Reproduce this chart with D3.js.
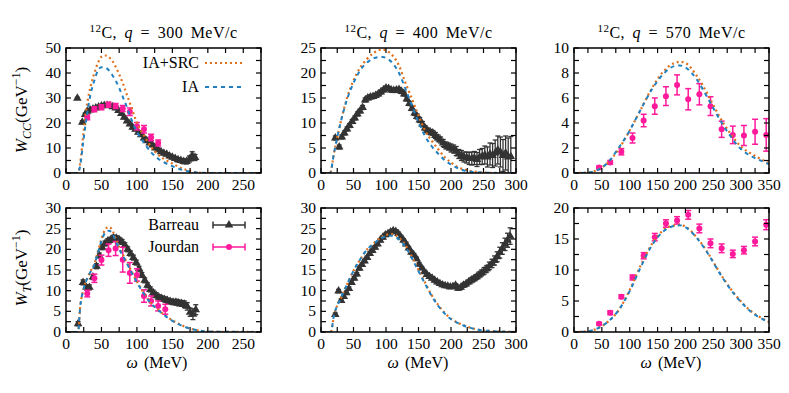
<!DOCTYPE html>
<html>
<head>
<meta charset="utf-8">
<script src="https://cdn.jsdelivr.net/npm/d3@7"></script>
<style>
  body { margin: 0; background: #fff; }
  text { font-family: "Liberation Serif", "Times New Roman", serif; fill: #000; }
</style>
</head>
<body>
<script>
//Theory curves (IA+SRC and IA), omega grid per panel
var thW_cc300 = [0,17,20,25,30,35,40,45,50,55,60,65,70,75,80,85,90,95,100,110,120,130,140,150,160,170,180,190,200,275];
var src_cc300 = [0,0,4,17,28,35,40,44,46.5,47,46.5,45,42.5,39.5,36,32,28,24,20,15,10.5,7.3,5.3,3.8,2.3,1.2,0.5,0.1,0,0];
var ia_cc300  = [0,0,3,14,24,32,37,41,42.3,42.2,41.2,39.3,37,34,30.5,27,23,19.5,16.5,12,8.3,5.7,4,2.7,1.6,0.8,0.3,0.1,0,0];

var thW_cc400 = [0,14,20,30,40,50,60,70,80,90,95,100,110,120,130,140,150,160,170,180,190,200,210,220,240,260,300];
var src_cc400 = [0,0,4,10,15,18.5,21,22.7,23.9,24.6,24.7,24.5,23.5,21.5,18,14.8,11.5,8.5,6.5,4.8,3.2,2.1,1.2,0.7,0.2,0.05,0];
var ia_cc400  = [0,0,4,10,14.7,18,20.5,22,22.9,23.2,23.2,23,22,20,16.8,13.4,10.2,7.4,5.4,3.9,2.6,1.7,1,0.5,0.15,0.03,0];

var thW_cc570 = [0,20,40,60,80,100,120,140,160,180,190,200,220,240,260,280,300,320,340,350];
var src_cc570 = [0,0.02,0.2,0.8,1.9,3.4,5.1,6.8,8.1,8.8,8.9,8.8,7.8,6.3,4.6,3.2,2.1,1.5,1.0,0.75];
var ia_cc570  = [0,0.02,0.2,0.8,2.0,3.4,5.1,6.7,7.9,8.55,8.6,8.45,7.5,6.0,4.4,3.0,1.9,1.3,0.9,0.7];

var thW_t300 = [0,17,20,25,30,35,40,45,50,55,60,65,70,75,80,90,100,110,120,130,140,150,160,170,180,190,200,275];
var src_t300 = [0,0,6,10.5,13,14.8,16.5,19.5,22.5,24.7,25.4,24.8,22.5,20.5,18.8,15.5,12.2,9.4,7,5.4,4,2.8,1.9,1.1,0.6,0.3,0.1,0];
var ia_t300  = [0,0,6,10.5,13,14.7,16.3,19.2,22,24,24.5,24,22,20.1,18.5,15.2,12,9.2,6.9,5.3,3.9,2.7,1.8,1.1,0.6,0.3,0.1,0];

var thW_t400 = [0,15,20,30,40,50,60,70,80,90,100,110,120,130,140,150,160,170,180,190,200,210,220,230,240,260,280,300];
var src_t400 = [0,0,4,8,11.5,14.8,17.5,19.8,21.3,22.6,23.5,23.7,22.8,21,18.2,15,12,9,6.6,4.7,3.2,2.3,1.6,1,0.65,0.3,0.1,0];
var ia_t400  = [0,0,4,8,11.5,14.8,17.5,19.8,21.2,22.4,23.2,23.3,22.4,20.6,17.8,14.7,11.7,8.8,6.4,4.5,3.1,2.2,1.5,1,0.6,0.25,0.08,0];

var thW_t570 = [0,20,40,60,80,100,120,140,160,180,190,200,220,240,260,280,300,320,340,350];
var src_t570 = [0,0.05,0.5,1.6,3.5,6.8,10.8,14.2,16.4,17.2,17.3,17,15.3,12.8,9.8,7.1,4.9,3.2,2.1,1.6];
var ia_t570  = [0,0.05,0.5,1.6,3.5,6.6,10.5,14,16.2,17.1,17.2,16.9,15.2,12.7,9.7,7,4.8,3.1,2.0,1.55];

//Barreau data (omega, value, error)
var bW_cc300 = [16,23,27,30,34,38,42,46,50,54,58,62,66,70,74,78,82,86,90,94,98,102,106,110,114,118,122,126,130,134,138,142,146,150,154,158,162,166,170,174,178,182];
var bV_cc300 = [29.9,20.3,23.4,24.7,25.2,25.6,26,26.4,26.8,27,27,26.9,26.5,26,25,23.8,22.3,20.8,19.6,18.3,17.5,16.3,15.3,14,12.9,12,11.2,10,9.3,8.5,7.9,7.5,6.8,6.3,5.8,5.3,5,4.6,4.6,5.6,7,6.2];
var bE_cc300 = [0.4,0.6,0.6,0.6,0.6,0.6,0.6,0.6,0.6,0.6,0.6,0.6,0.6,0.6,0.6,0.6,0.6,0.6,0.6,0.6,0.6,0.6,0.6,0.6,0.6,0.6,0.6,0.6,0.6,0.6,0.6,0.6,0.7,0.7,0.7,0.8,0.8,0.9,1,1.2,1.5,1.2];

var bW_cc400 = [22,28,32,36,40,44,48,52,56,60,64,68,72,76,80,84,88,92,96,100,104,108,112,116,120,124,128,132,136,140,144,148,152,156,160,164,168,172,176,180,184,188,192,196,200,204,208,212,216,220,224,228,232,236,240,244,248,252,256,260,264,268,272,276,280,284,288,292];
var bV_cc400 = [7,5.2,7.2,8,8.8,9.5,10.3,11,11.8,12.4,13.1,14.6,15,15.2,15.3,15.5,15.8,16.2,16.6,17,16.9,16.6,16.5,16.6,16.7,16.3,15.8,14.8,13.9,12.9,12,11.3,10.6,9.8,9,8.5,8.2,8,7.5,7,6.6,6,5.5,5.3,5,4.8,4.4,3.8,3.5,3.2,3.1,2.9,2.9,3,2.7,3.2,3.3,3.6,3.2,3.8,3.5,4,4.6,4.2,3.5,4,3.2,3.3];
var bE_cc400 = [0.4,0.4,0.4,0.4,0.4,0.4,0.4,0.4,0.4,0.4,0.4,0.4,0.4,0.4,0.4,0.4,0.4,0.4,0.4,0.4,0.4,0.4,0.4,0.4,0.4,0.4,0.4,0.4,0.4,0.4,0.5,0.5,0.5,0.5,0.5,0.5,0.5,0.5,0.6,0.6,0.6,0.7,0.7,0.7,0.8,0.8,0.9,0.9,1,1,1.1,1.2,1.3,1.3,1.4,1.5,1.6,1.8,2,2.2,2.4,2.6,2.8,3,3.2,3.4,3.8,4];

var bW_t300 = [17,24,29,33,38,43,47,51,55,59,63,67,71,75,79,83,87,91,95,99,103,107,111,115,119,123,127,131,135,139,143,147,151,155,159,163,167,171,175,179,183];
var bV_t300 = [2,12,10.8,10.8,13.3,15.9,18.5,20.5,21.4,22,22.3,22.8,22.7,22.3,21.8,21,20,19,18,16.8,15.3,13.8,12.5,11.3,10.3,9.5,8.9,8.4,8.1,7.9,7.6,7.4,7.2,7.2,7,6.9,6.7,6.2,4.8,4.3,5.4];
var bE_t300 = [0.5,0.6,0.6,0.6,0.6,0.6,0.6,0.6,0.6,0.6,0.6,0.6,0.6,0.6,0.6,0.6,0.6,0.6,0.6,0.6,0.6,0.6,0.6,0.6,0.6,0.6,0.6,0.6,0.6,0.6,0.6,0.6,0.6,0.7,0.7,0.7,0.8,0.9,1,1.3,1.2];

var bW_t400 = [22,27,31,35,39,43,47,51,55,59,63,67,71,75,79,83,87,91,95,99,103,107,111,115,119,123,127,131,135,139,143,147,151,155,159,163,167,171,175,179,183,187,191,195,199,203,207,211,215,219,223,227,231,235,239,243,247,251,255,259,263,267,271,275,279,283,287,291];
var bV_t400 = [4.2,9.9,7.6,8.6,9.5,10.5,12,13,14,15.4,16.3,17.2,18,19,19.7,20.5,21.3,22.2,22.9,23.5,23.8,24.2,24.5,24.3,23.8,23,22.2,21.3,20.3,19.3,18.6,17.7,16.4,15.5,14.6,13.9,13.4,13,12.5,12.1,11.7,11.4,11.2,11.1,10.9,11,11.3,10.6,10.8,11.3,11.6,12.1,12.5,12.9,13.3,13.8,14.3,14.8,15.3,16,16.6,17.3,18.2,19.2,20.2,21.2,22.2,23.2];
var bE_t400 = [0.4,0.4,0.4,0.4,0.4,0.4,0.4,0.4,0.4,0.4,0.4,0.4,0.4,0.4,0.4,0.4,0.4,0.4,0.4,0.4,0.4,0.4,0.4,0.4,0.4,0.4,0.4,0.4,0.4,0.4,0.4,0.4,0.4,0.4,0.4,0.4,0.4,0.4,0.4,0.4,0.4,0.4,0.4,0.4,0.4,0.4,0.4,0.5,0.5,0.5,0.5,0.5,0.6,0.6,0.6,0.7,0.7,0.8,0.8,0.9,1,1.1,1.2,1.3,1.4,1.5,1.7,2];

//Jourdan data
var jW_cc300 = [30,40,50,60,70,80,90,100,110,120,130];
var jV_cc300 = [22.3,25.5,26.3,27.3,26.8,25.8,24.5,18.7,17.5,14.2,12];
var jE_cc300 = [1,1,1,1,1,1.2,1.5,1.5,1.5,1.3,1.2];

var jW_cc570 = [45,65,85,105,125,145,165,185,205,225,245,265,285,305,325,345];
var jV_cc570 = [0.45,0.85,1.7,2.8,4.2,5.35,6.15,7.05,5.9,6.3,5.35,3.5,3.05,3.0,3.3,3.05];
var jE_cc570 = [0.1,0.15,0.25,0.4,0.5,0.65,0.75,0.8,0.85,0.85,0.75,0.65,0.7,0.8,1.0,1.3];

var jW_t300 = [30,40,50,60,70,80,90,100,110,120,130,140];
var jV_t300 = [9.3,13,17.4,19.8,20.2,17.5,14.3,13.8,8.7,7.5,6.3,5.5];
var jE_t300 = [0.8,1,1.2,1.5,1.7,3,2.5,1.5,1.5,1.2,1.2,1.2];

var jW_t570 = [45,65,85,105,125,145,165,185,205,225,245,265,285,305,325,345];
var jV_t570 = [1.35,3.1,5.7,8.8,12.3,15.3,17.5,18,18.9,16.7,14.3,13.5,12.6,13.2,14.6,17.3];
var jE_t570 = [0.2,0.3,0.3,0.4,0.5,0.6,0.6,0.6,0.7,0.7,0.7,0.7,0.6,0.6,0.7,0.8];

//Titles
var qValues = ["300", "400", "570"];

//Colors
var cSrc = "#e0701c";
var cIa = "#2080c0";
var cBar = "#333333";
var cJou = "#ff1a9c";

var w = 789;
var h = 393;

var svg = d3.select("body").append("svg").attr("width", w).attr("height", h);
svg.append("rect").attr("width", w).attr("height", h).attr("fill", "white");

function zip(a, b, c) {
  return a.map(function (d, i) {
    return { w: d, v: b[i], e: c ? c[i] : 0 };
  });
}

var panels = [
  { x0: 66, x1: 261, y0: 48, y1: 173, xmax: 275, ymax: 50, ystep: 10, xlab: 157,
    th: [thW_cc300, src_cc300, ia_cc300], bar: [bW_cc300, bV_cc300, bE_cc300], jou: [jW_cc300, jV_cc300, jE_cc300] },
  { x0: 321, x1: 516, y0: 48, y1: 173, xmax: 300, ymax: 25, ystep: 5, xlab: 418,
    th: [thW_cc400, src_cc400, ia_cc400], bar: [bW_cc400, bV_cc400, bE_cc400], jou: null },
  { x0: 574, x1: 769, y0: 48, y1: 173, xmax: 350, ymax: 10, ystep: 2, xlab: 671,
    th: [thW_cc570, src_cc570, ia_cc570], bar: null, jou: [jW_cc570, jV_cc570, jE_cc570] },
  { x0: 66, x1: 261, y0: 208, y1: 332, xmax: 275, ymax: 30, ystep: 5, xlab: 157,
    th: [thW_t300, src_t300, ia_t300], bar: [bW_t300, bV_t300, bE_t300], jou: [jW_t300, jV_t300, jE_t300] },
  { x0: 321, x1: 516, y0: 208, y1: 332, xmax: 300, ymax: 30, ystep: 5, xlab: 418,
    th: [thW_t400, src_t400, ia_t400], bar: [bW_t400, bV_t400, bE_t400], jou: null },
  { x0: 574, x1: 769, y0: 208, y1: 332, xmax: 350, ymax: 20, ystep: 5, xlab: 671,
    th: [thW_t570, src_t570, ia_t570], bar: null, jou: [jW_t570, jV_t570, jE_t570] }
];

var tri = d3.symbol().type(d3.symbolTriangle).size(32);

panels.forEach(function (p, k) {
  var x = d3.scaleLinear().domain([0, p.xmax]).range([p.x0, p.x1]);
  var y = d3.scaleLinear().domain([0, p.ymax]).range([p.y1, p.y0]);
  var g = svg.append("g");

  g.append("clipPath").attr("id", "clip" + k)
    .append("rect").attr("x", p.x0).attr("y", p.y0)
    .attr("width", p.x1 - p.x0).attr("height", p.y1 - p.y0);

  var inner = g.append("g").attr("clip-path", "url(#clip" + k + ")");

  //ticks (inward, mirrored), minor at half step
  var xt = d3.range(0, p.xmax + 0.1, 25);
  var yt = d3.range(0, p.ymax + 0.01, p.ystep / 2);
  xt.forEach(function (t) {
    g.append("line").attr("x1", x(t)).attr("x2", x(t)).attr("y1", p.y1).attr("y2", p.y1 - 5)
      .attr("stroke", "#000").attr("stroke-width", 1.2);
    g.append("line").attr("x1", x(t)).attr("x2", x(t)).attr("y1", p.y0).attr("y2", p.y0 + 5)
      .attr("stroke", "#000").attr("stroke-width", 1.2);
  });
  yt.forEach(function (t) {
    g.append("line").attr("x1", p.x0).attr("x2", p.x0 + 5).attr("y1", y(t)).attr("y2", y(t))
      .attr("stroke", "#000").attr("stroke-width", 1.2);
    g.append("line").attr("x1", p.x1).attr("x2", p.x1 - 5).attr("y1", y(t)).attr("y2", y(t))
      .attr("stroke", "#000").attr("stroke-width", 1.2);
  });

  //tick labels
  g.selectAll(".xl").data(d3.range(0, p.xmax + 0.1, 50)).enter().append("text")
    .attr("x", function (d) { return x(d); })
    .attr("y", p.y1 + 17)
    .attr("text-anchor", "middle")
    .style("font-size", "15.5px")
    .text(function (d) { return d; });
  g.selectAll(".yl").data(d3.range(0, p.ymax + 0.01, p.ystep)).enter().append("text")
    .attr("x", p.x0 - 5)
    .attr("y", function (d) { return y(d); })
    .attr("dy", "0.33em")
    .attr("text-anchor", "end")
    .style("font-size", "15.5px")
    .text(function (d) { return d; });

  //Barreau points
  if (p.bar) {
    var bd = zip(p.bar[0], p.bar[1], p.bar[2]);
    var bg = inner.selectAll(".b").data(bd).enter().append("g");
    bg.append("line")
      .attr("x1", function (d) { return x(d.w); }).attr("x2", function (d) { return x(d.w); })
      .attr("y1", function (d) { return y(d.v - d.e); }).attr("y2", function (d) { return y(d.v + d.e); })
      .attr("stroke", cBar).attr("stroke-width", 1.3);
    [-1, 1].forEach(function (s) {
      bg.append("line")
        .attr("x1", function (d) { return x(d.w) - 2.5; }).attr("x2", function (d) { return x(d.w) + 2.5; })
        .attr("y1", function (d) { return y(d.v + s * d.e); }).attr("y2", function (d) { return y(d.v + s * d.e); })
        .attr("stroke", cBar).attr("stroke-width", 1.3);
    });
    bg.append("path").attr("d", tri)
      .attr("transform", function (d) { return "translate(" + x(d.w) + "," + y(d.v) + ")"; })
      .attr("fill", cBar);
  }

  //Jourdan points
  if (p.jou) {
    var jd = zip(p.jou[0], p.jou[1], p.jou[2]);
    var jg = inner.selectAll(".j").data(jd).enter().append("g");
    jg.append("line")
      .attr("x1", function (d) { return x(d.w); }).attr("x2", function (d) { return x(d.w); })
      .attr("y1", function (d) { return y(d.v - d.e); }).attr("y2", function (d) { return y(d.v + d.e); })
      .attr("stroke", cJou).attr("stroke-width", 1.5);
    [-1, 1].forEach(function (s) {
      jg.append("line")
        .attr("x1", function (d) { return x(d.w) - 3; }).attr("x2", function (d) { return x(d.w) + 3; })
        .attr("y1", function (d) { return y(d.v + s * d.e); }).attr("y2", function (d) { return y(d.v + s * d.e); })
        .attr("stroke", cJou).attr("stroke-width", 1.5);
    });
    jg.append("circle")
      .attr("cx", function (d) { return x(d.w); }).attr("cy", function (d) { return y(d.v); })
      .attr("r", 3).attr("fill", cJou);
  }

  //theory curves
  var line = d3.line().curve(d3.curveMonotoneX)
    .x(function (d) { return x(d.w); }).y(function (d) { return y(d.v); });
  inner.append("path").attr("d", line(zip(p.th[0], p.th[1])))
    .attr("fill", "none").attr("stroke", cSrc).attr("stroke-width", 2.2)
    .attr("stroke-dasharray", "2,3");
  inner.append("path").attr("d", line(zip(p.th[0], p.th[2])))
    .attr("fill", "none").attr("stroke", cIa).attr("stroke-width", 2)
    .attr("stroke-dasharray", "4,4").attr("stroke-dashoffset", 1);

  //frame
  g.append("rect").attr("x", p.x0).attr("y", p.y0)
    .attr("width", p.x1 - p.x0).attr("height", p.y1 - p.y0)
    .attr("fill", "none").attr("stroke", "#000").attr("stroke-width", 1.5);

  //titles for top row, axis title for bottom row
  if (k < 3) {
    var t = svg.append("text").attr("x", (p.x0 + p.x1) / 2).attr("y", 38)
      .attr("text-anchor", "middle").style("font-size", "16px")
      .style("letter-spacing", "0.5px").style("word-spacing", "3px");
    t.append("tspan").attr("dy", -6).style("font-size", "11px").text("12");
    t.append("tspan").attr("dy", 6).text("C, ");
    t.append("tspan").style("font-style", "italic").text("q");
    t.append("tspan").text(" = " + qValues[k] + " MeV/c");
  } else {
    var xl = svg.append("text").attr("x", p.xlab).attr("y", 368)
      .attr("text-anchor", "middle").style("font-size", "16px").style("word-spacing", "2px");
    xl.append("tspan").style("font-style", "italic").text("ω");
    xl.append("tspan").text(" (MeV)");
  }
});

//y axis labels
function yLabel(cy, sub) {
  var t = svg.append("text").attr("transform", "translate(27," + cy + ") rotate(-90)")
    .attr("text-anchor", "middle").style("font-size", "17px");
  t.append("tspan").style("font-style", "italic").text("W");
  t.append("tspan").attr("dy", 4).style("font-style", "italic").style("font-size", "12px").text(sub);
  t.append("tspan").attr("dy", -4).text("(GeV");
  t.append("tspan").attr("dy", -7).style("font-size", "12px").text("−1");
  t.append("tspan").attr("dy", 7).text(")");
}
yLabel(110, "CC");
yLabel(268, "T");

//legend: theory
var leg1 = [["IA+SRC", cSrc, "2,3", 2.2, 63], ["IA", cIa, "4,4", 2, 87]];
leg1.forEach(function (l) {
  svg.append("text").attr("x", 199).attr("y", l[4]).attr("dy", "0.33em")
    .attr("text-anchor", "end").style("font-size", "16px").text(l[0]);
  svg.append("line").attr("x1", 205).attr("x2", 243).attr("y1", l[4]).attr("y2", l[4])
    .attr("stroke", l[1]).attr("stroke-width", l[3]).attr("stroke-dasharray", l[2]);
});

//legend: data
var leg2 = [["Barreau", cBar, 225, "tri"], ["Jourdan", cJou, 247, "circ"]];
leg2.forEach(function (l) {
  svg.append("text").attr("x", 199).attr("y", l[2]).attr("dy", "0.33em")
    .attr("text-anchor", "end").style("font-size", "16px").text(l[0]);
  svg.append("line").attr("x1", 213).attr("x2", 245).attr("y1", l[2]).attr("y2", l[2])
    .attr("stroke", l[1]).attr("stroke-width", 1.5);
  [213, 245].forEach(function (xx) {
    svg.append("line").attr("x1", xx).attr("x2", xx).attr("y1", l[2] - 3.5).attr("y2", l[2] + 3.5)
      .attr("stroke", l[1]).attr("stroke-width", 1.5);
  });
  if (l[3] == "tri") {
    svg.append("path").attr("d", tri).attr("transform", "translate(229," + l[2] + ")").attr("fill", l[1]);
  } else {
    svg.append("circle").attr("cx", 229).attr("cy", l[2]).attr("r", 3).attr("fill", l[1]);
  }
});
</script>
</body>
</html>
